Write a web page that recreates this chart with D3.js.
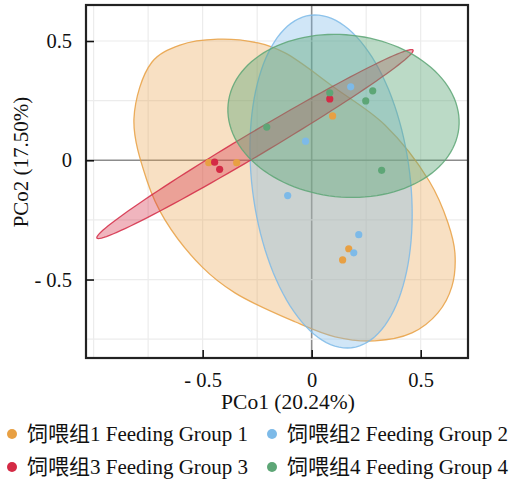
<!DOCTYPE html>
<html>
<head>
<meta charset="utf-8">
<script src="https://cdn.jsdelivr.net/npm/d3@7"></script>
<style>
  body { margin: 0; background: #fff; }
  text { font-family: "Liberation Serif", "Noto Sans CJK SC", serif; fill: #111; }
</style>
</head>
<body>
<script>
// groups
var groupNames = ["饲喂组1 Feeding Group 1", "饲喂组2 Feeding Group 2", "饲喂组3 Feeding Group 3", "饲喂组4 Feeding Group 4"];
var groupColors = ["#E8A043", "#7DBAE8", "#D42A45", "#5DA676"];

// sample points (PCo1, PCo2)
var g1x = [-0.472, -0.344, 0.096, 0.170, 0.142];
var g1y = [-0.010, -0.010, 0.186, -0.371, -0.418];
var g2x = [0.179, -0.028, -0.110, 0.216, 0.193];
var g2y = [0.308, 0.080, -0.148, -0.312, -0.388];
var g3x = [-0.445, -0.422, 0.083];
var g3y = [-0.008, -0.038, 0.257];
var g4x = [-0.206, 0.083, 0.280, 0.248, 0.321];
var g4y = [0.139, 0.283, 0.291, 0.249, -0.042];

// ellipses: centre + two conjugate semi-axis vectors (data units)
var ellBlue  = { c: [0.089, -0.089], u: [-0.094, 0.697], v: [0.360, 0.040] };
var ellRed   = { c: [-0.260, 0.068], u: [0.725, 0.394], v: [0.027, -0.042] };
var ellGreen = { c: [0.146, 0.186], u: [0.529, -0.051], v: [-0.039, -0.338] };
// group 1 region outline
var outlineOrange = [
  [-0.430, 0.508], [-0.246, 0.492], [-0.122, 0.450], [0.107, 0.303], [0.336, 0.148],
  [0.539, -0.087], [0.625, -0.262], [0.657, -0.388], [0.643, -0.530], [0.579, -0.640],
  [0.460, -0.724], [0.290, -0.757], [0.107, -0.740], [-0.077, -0.677], [-0.352, -0.556],
  [-0.503, -0.447], [-0.673, -0.250], [-0.756, -0.084], [-0.815, 0.176], [-0.733, 0.411],
  [-0.604, 0.483]
];

var xTicks = [-0.5, 0, 0.5];
var yTicks = [-0.5, 0, 0.5];
var tickLabels = { "-0.5": "- 0.5", "0": "0", "0.5": "0.5" };
var xTitle = "PCo1 (20.24%)";
var yTitle = "PCo2 (17.50%)";

var W = 512, H = 483;
var pLeft = 86, pRight = 468, pTop = 5, pBottom = 358;
var fs = 20.5;

var svg = d3.select("body").append("svg")
  .attr("width", W).attr("height", H);

var x = d3.scaleLinear().domain([-1.035, 0.717]).range([pLeft, pRight]);
var y = d3.scaleLinear().domain([-0.829, 0.651]).range([pBottom, pTop]);

svg.append("clipPath").attr("id", "plotclip")
  .append("rect").attr("x", pLeft).attr("y", pTop)
  .attr("width", pRight - pLeft).attr("height", pBottom - pTop);

var plot = svg.append("g").attr("clip-path", "url(#plotclip)");

// grid every 0.25
var gridX = d3.range(-1, 0.75, 0.25);
var gridY = d3.range(-0.75, 0.75, 0.25);
plot.selectAll(".gx").data(gridX).enter().append("line")
  .attr("x1", d => x(d)).attr("x2", d => x(d))
  .attr("y1", pTop).attr("y2", pBottom)
  .attr("stroke", d => Math.abs(d) < 1e-9 ? "#8c8c8c" : "#ececec")
  .attr("stroke-width", d => Math.abs(d) < 1e-9 ? 1.6 : 1.2);
plot.selectAll(".gy").data(gridY).enter().append("line")
  .attr("y1", d => y(d)).attr("y2", d => y(d))
  .attr("x1", pLeft).attr("x2", pRight)
  .attr("stroke", d => Math.abs(d) < 1e-9 ? "#8c8c8c" : "#ececec")
  .attr("stroke-width", d => Math.abs(d) < 1e-9 ? 1.6 : 1.2);

function ellipsePts(e) {
  return d3.range(0, 360, 3).map(function (deg) {
    var t = deg * Math.PI / 180;
    return [e.c[0] + e.u[0] * Math.cos(t) + e.v[0] * Math.sin(t),
            e.c[1] + e.u[1] * Math.cos(t) + e.v[1] * Math.sin(t)];
  });
}

var lineClosed = d3.line().x(d => x(d[0])).y(d => y(d[1])).curve(d3.curveLinearClosed);
var lineSmooth = d3.line().x(d => x(d[0])).y(d => y(d[1])).curve(d3.curveCatmullRomClosed.alpha(0.5));

var shapes = [
  { path: lineSmooth(outlineOrange), col: groupColors[0], op: 0.32 },
  { path: lineClosed(ellipsePts(ellBlue)), col: groupColors[1], op: 0.36 },
  { path: lineClosed(ellipsePts(ellRed)), col: groupColors[2], op: 0.35 },
  { path: lineClosed(ellipsePts(ellGreen)), col: groupColors[3], op: 0.42 }
];
plot.selectAll(".ell").data(shapes).enter().append("path")
  .attr("d", d => d.path)
  .attr("fill", d => d.col).attr("fill-opacity", d => d.op)
  .attr("stroke", d => d.col).attr("stroke-opacity", 0.85).attr("stroke-width", 1.3);

// points
var pts = [];
[[g1x, g1y], [g2x, g2y], [g3x, g3y], [g4x, g4y]].forEach(function (g, gi) {
  g[0].forEach(function (v, i) { pts.push({ x: v, y: g[1][i], g: gi }); });
});
plot.selectAll(".pt").data(pts).enter().append("circle")
  .attr("cx", d => x(d.x)).attr("cy", d => y(d.y)).attr("r", 3.6)
  .attr("fill", d => groupColors[d.g]);

// frame
svg.append("rect").attr("x", pLeft).attr("y", pTop)
  .attr("width", pRight - pLeft).attr("height", pBottom - pTop)
  .attr("fill", "none").attr("stroke", "#222").attr("stroke-width", 2.2);

// axes (inward ticks)
var xAxis = d3.axisBottom(x).tickValues(xTicks).tickSizeInner(-8).tickSizeOuter(0)
  .tickPadding(14).tickFormat(d => tickLabels[String(d)]);
var gx = svg.append("g").attr("transform", "translate(0," + pBottom + ")").call(xAxis);
gx.select(".domain").remove();
gx.selectAll("line").attr("stroke", "#111").attr("stroke-width", 1.6);
gx.selectAll("text").attr("font-size", fs).attr("fill", "#111")
  .style("font-family", "'Liberation Serif', serif");

var yAxis = d3.axisLeft(y).tickValues(yTicks).tickSizeInner(-8).tickSizeOuter(0)
  .tickPadding(14).tickFormat(d => tickLabels[String(d)]);
var gy = svg.append("g").attr("transform", "translate(" + pLeft + ",0)").call(yAxis);
gy.select(".domain").remove();
gy.selectAll("line").attr("stroke", "#111").attr("stroke-width", 1.6);
gy.selectAll("text").attr("font-size", fs).attr("fill", "#111")
  .style("font-family", "'Liberation Serif', serif");

svg.append("text").attr("x", 288).attr("y", 409)
  .attr("text-anchor", "middle").attr("font-size", 21.5).text(xTitle);
svg.append("text").attr("transform", "translate(28,162) rotate(-90)")
  .attr("text-anchor", "middle").attr("font-size", 21).text(yTitle);

// legend
var legPos = [[12, 434], [272, 434], [12, 467], [272, 467]];
var leg = svg.selectAll(".leg").data(groupNames).enter().append("g")
  .attr("transform", (d, i) => "translate(" + legPos[i][0] + "," + legPos[i][1] + ")");
leg.append("circle").attr("r", 5).attr("fill", (d, i) => groupColors[i]);
leg.append("text").attr("x", 15).attr("y", 7).attr("font-size", 21).text(d => d);
</script>
</body>
</html>
